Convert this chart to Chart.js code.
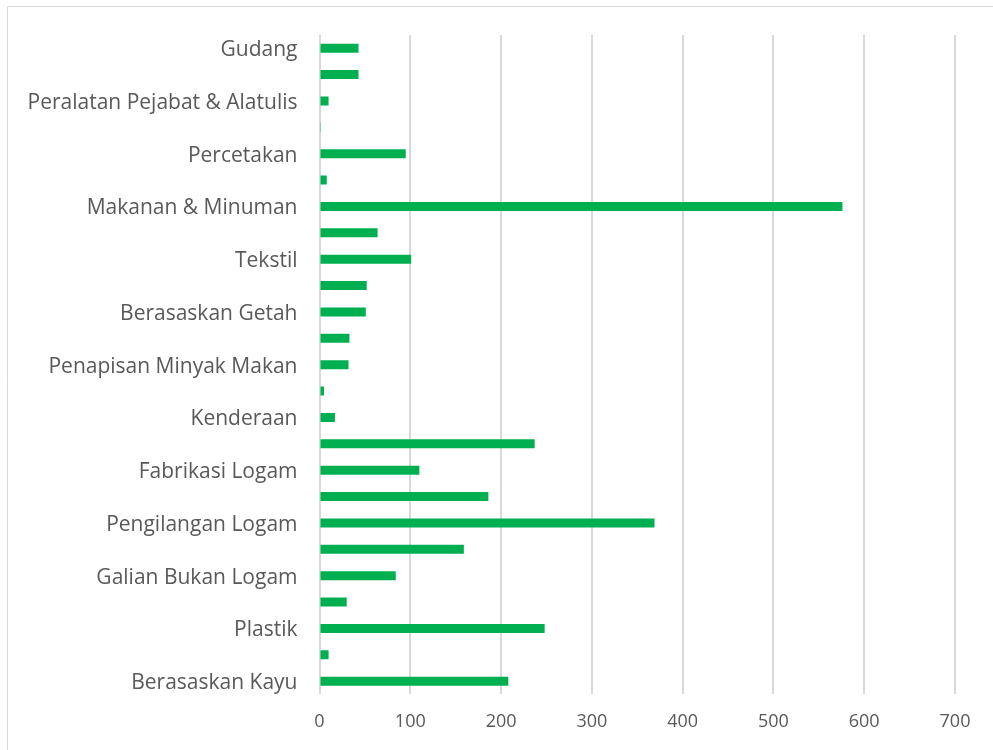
<!DOCTYPE html>
<html>
<head>
<meta charset="utf-8">
<script src="https://cdn.jsdelivr.net/npm/chart.js@4/dist/chart.umd.min.js"></script>
<style>
    html, body { margin: 0; padding: 0; background: #fff; }
    #wrap { width: 993px; height: 750px; position: relative; }
</style>
</head>
<body>
<div id="wrap"><canvas id="chart" width="993" height="750"></canvas></div>
<script>
// Only every other category is labelled in the original
const categories = [
    'Gudang', '', 'Peralatan Pejabat & Alatulis', '', 'Percetakan', '',
    'Makanan & Minuman', '', 'Tekstil', '', 'Berasaskan Getah', '',
    'Penapisan Minyak Makan', '', 'Kenderaan', '', 'Fabrikasi Logam', '',
    'Pengilangan Logam', '', 'Galian Bukan Logam', '', 'Plastik', '',
    'Berasaskan Kayu',
];
const values = [
    43, 43, 10, 1.5, 95, 8,
    576, 64, 101, 52, 51, 33,
    32, 5, 17, 237, 110, 186,
    369, 159, 84, 30, 248, 10,
    208,
];
const xTicks = [0, 100, 200, 300, 400, 500, 600, 700];

const barColor = '#00B050';
const textColor = '#595959';
const gridColor = '#D9D9D9';

// ── Frame around the chart ────────────────────────────────────────────────────

const framePlugin = {
    id: 'frame',
    beforeDraw(chart) {
        const { ctx } = chart;
        ctx.save();
        ctx.strokeStyle = gridColor;
        ctx.lineWidth = 1;
        ctx.beginPath();
        ctx.moveTo(7.5, chart.height);
        ctx.lineTo(7.5, 6.5);
        ctx.lineTo(chart.width, 6.5);
        ctx.stroke();
        ctx.restore();
    },
};

new Chart(document.getElementById('chart'), {
    type: 'bar',
    data: {
        labels: categories,
        datasets: [{
            data: values,
            backgroundColor: barColor,
            borderWidth: 0,
            barPercentage: 0.68,
            categoryPercentage: 0.5,
        }],
    },
    options: {
        indexAxis: 'y',
        responsive: false,
        animation: false,
        layout: { padding: { top: 35, right: 38, bottom: 0, left: 0 } },
        plugins: {
            legend: { display: false },
            tooltip: { enabled: false },
        },
        scales: {
            x: {
                min: 0,
                max: 700,
                afterBuildTicks(scale) {
                    scale.ticks = xTicks.map((v) => ({ value: v }));
                },
                afterFit(scale) { scale.height = 55.6; },
                grid: { color: gridColor, lineWidth: 2, drawTicks: false },
                border: { display: false },
                ticks: {
                    color: textColor,
                    padding: 17,
                    font: { family: 'Open Sans', size: 18 },
                },
            },
            y: {
                afterFit(scale) { scale.width = 319.5; },
                grid: { display: false },
                border: { display: false },
                ticks: {
                    autoSkip: false,
                    color: textColor,
                    padding: 14,
                    labelOffset: 2,
                    font: { family: 'Open Sans', size: 21 },
                },
            },
        },
    },
    plugins: [framePlugin],
});
</script>
</body>
</html>
